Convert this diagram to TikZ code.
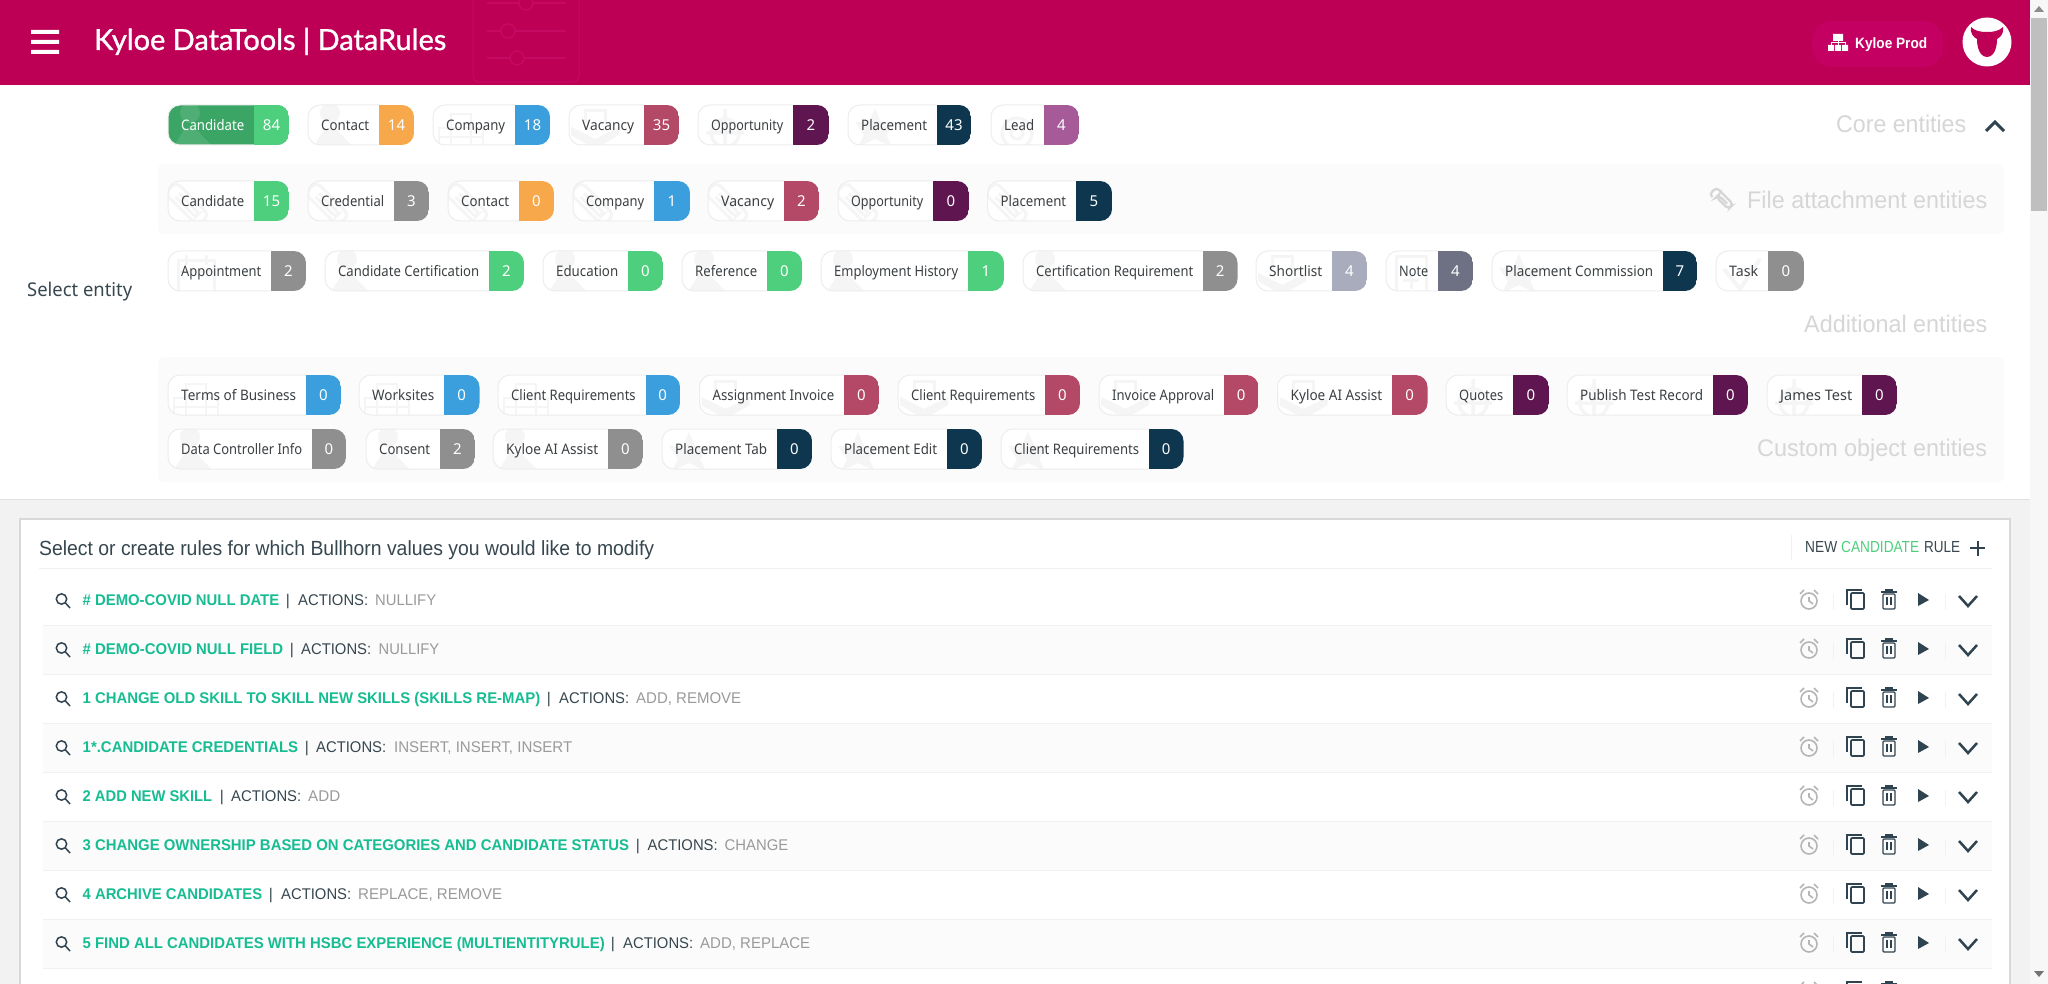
\documentclass[tikz,border=0pt]{standalone}
\usepackage{graphicx}
\usepackage{fontspec}
\setmainfont{Liberation Sans}
\newfontfamily\chipfont{Noto Sans}
\newfontfamily\titlefont[FakeBold=1.2]{Lato}
\definecolor{hdr}{HTML}{BD0056}
\definecolor{hdrpill}{HTML}{C40063}
\definecolor{hdrghost}{HTML}{C50A64}
\definecolor{pagebg}{HTML}{F2F2F2}
\definecolor{panel}{HTML}{FBFBFB}
\definecolor{chipline}{HTML}{EDEDED}
\definecolor{ghostc}{HTML}{F5F5F5}
\definecolor{labelc}{HTML}{3C4043}
\definecolor{cgreen}{HTML}{4DCF7D}
\definecolor{cgreendark}{HTML}{3AA565}
\definecolor{corange}{HTML}{F7A84A}
\definecolor{cblue}{HTML}{3A9FDC}
\definecolor{cvac}{HTML}{B34867}
\definecolor{copp}{HTML}{5F1650}
\definecolor{cplace}{HTML}{0E364F}
\definecolor{clead}{HTML}{A65B98}
\definecolor{cgrey}{HTML}{8F8F8F}
\definecolor{cshort}{HTML}{A9ACBD}
\definecolor{cnote}{HTML}{6E7183}
\definecolor{sect}{HTML}{D6D6D6}
\definecolor{slate}{HTML}{37474F}
\definecolor{iconc}{HTML}{2F4350}
\definecolor{alarmc}{HTML}{B5B5B5}
\definecolor{rulegreen}{HTML}{17BD92}
\definecolor{valc}{HTML}{9A9A9A}
\definecolor{sepc}{HTML}{F1F1F1}
\definecolor{cardline}{HTML}{D8D8D8}
\newcommand{\fitw}[2]{\resizebox{#1pt}{\height}{#2}}
\newcounter{chipc}
\newcounter{rowc}
\def\chipfillc{white}
\def\chiptextc{labelc}
\def\chipghostc{ghostc}
% ghost icons, drawn from the chip's left edge \gx and centre \gy
\newcommand{\ghostperson}{\fill[\chipghostc] (\gx+22,\gy-12) circle[radius=10pt];
  \fill[\chipghostc] (\gx+6,\gy+21) -- (\gx+17,\gy+3) -- (\gx+27,\gy+3) -- (\gx+44,\gy+21) -- cycle;}
\newcommand{\ghostbuilding}{\draw[\chipghostc,line width=2.5pt] (\gx+18,\gy+21) -- (\gx+18,\gy-11) -- (\gx+38,\gy-11) -- (\gx+38,\gy+21)
  (\gx+6,\gy+21) -- (\gx+6,\gy+3) -- (\gx+50,\gy+3) -- (\gx+50,\gy+21) (\gx+6,\gy+12) -- (\gx+50,\gy+12);}
\newcommand{\ghostclip}{\begin{scope}[shift={(\gx+24,\gy+8)},rotate=-45]
  \draw[\chipghostc,line width=3pt,rounded corners=6pt] (-30,-8) rectangle (16,8);
  \draw[\chipghostc,line width=3pt,rounded corners=3pt] (-20,-2) -- (8,-2) -- (8,3) -- (-20,3);
  \end{scope}}
\newcommand{\ghostvacancy}{\draw[\chipghostc,line width=3pt] (\gx+16,\gy-2) -- (\gx+16,\gy-14) -- (\gx+36,\gy-14) -- (\gx+36,\gy-2);
  \fill[\chipghostc] (\gx+2,\gy+2) -- (\gx+26,\gy+14) -- (\gx+50,\gy+2) -- (\gx+50,\gy+10) -- (\gx+26,\gy+24) -- (\gx+2,\gy+10) -- cycle;}
\newcommand{\ghostopp}{\draw[\chipghostc,line width=3.5pt] (\gx+27,\gy+8) circle[radius=14pt] (\gx+27,\gy-16) -- (\gx+27,\gy+20) (\gx+8,\gy+8) -- (\gx+46,\gy+8);}
\newcommand{\ghoststar}{\fill[\chipghostc] (\gx+27,\gy-17) -- (\gx+33,\gy-3) -- (\gx+47,\gy-3) -- (\gx+38,\gy+10) -- (\gx+44,\gy+22) -- (\gx+27,\gy+14) -- (\gx+10,\gy+22) -- (\gx+16,\gy+10) -- (\gx+7,\gy-3) -- (\gx+21,\gy-3) -- cycle;}
\newcommand{\ghostlead}{\draw[\chipghostc,line width=3pt] (\gx+26,\gy+8) circle[radius=15pt] (\gx+26,\gy+8) circle[radius=6pt];}
\newcommand{\ghostcal}{\draw[\chipghostc,line width=3pt] (\gx+10,\gy-10) rectangle (\gx+46,\gy+22) (\gx+10,\gy+1) -- (\gx+46,\gy+1) (\gx+18,\gy-16) -- (\gx+18,\gy-6) (\gx+38,\gy-16) -- (\gx+38,\gy-6);}
\newcommand{\ghostnote}{\draw[\chipghostc,line width=3pt] (\gx+10,\gy-14) rectangle (\gx+40,\gy+22) (\gx+25,\gy+2) -- (\gx+25,\gy+18) (\gx+17,\gy+10) -- (\gx+33,\gy+10);}
\newcommand{\ghostcheck}{\draw[\chipghostc,line width=4pt] (\gx+8,\gy-2) -- (\gx+24,\gy+18) -- (\gx+44,\gy-12);}
% chip: left, split, right, centre y, label, count, colour, icon
\newcommand{\chip}[8]{%
  \stepcounter{chipc}%
  \def\gx{#1}\def\gy{#4}%
  \begin{scope}
    \clip[rounded corners=12pt] (#1,#4-20) rectangle (#3,#4+20);
    \fill[\chipfillc] (#1,#4-20) rectangle (#3,#4+20);
    \csname ghost#8\endcsname
    \fill[#7] (#2,#4-20) rectangle (#3,#4+20);
  \end{scope}
  \begin{scope}
    \clip (#1-2,#4-22) rectangle (#2,#4+22);
    \draw[chipline,line width=1pt,rounded corners=12pt] (#1,#4-20) rectangle (#3,#4+20);
  \end{scope}
  \pgfmathsetmacro\chipw{#2-#1-23}%
  \pgfmathsetmacro\chipnum{(#2+#3)/2}%
  \node[anchor=base west,inner sep=0pt,text=\chiptextc] (chip\arabic{chipc}) at (#1+13,#4+5.5) {\chipfont\fontsize{14.5}{16}\selectfont\fitw{\chipw}{#5}};
  \node[anchor=base,inner sep=0pt,text=white] (count\arabic{chipc}) at (\chipnum,#4+5.5) {\chipfont\fontsize{15}{16}\selectfont #6};
}
% icons of a rule row
\newcommand{\rowicons}[1]{%
  \draw[alarmc,line width=1.6pt] (1809,#1+1) circle[radius=8pt] (1809,#1-3) -- (1809,#1+1) -- (1813,#1+4) (1800,#1-6) -- (1804,#1-10) (1818,#1-6) -- (1814,#1-10);
  \draw[sepc,line width=1pt] (1833,#1-6) -- (1833,#1+10) (1945,#1-6) -- (1945,#1+10);
  \draw[iconc,line width=1.6pt] (1862,#1-10) -- (1847,#1-10) -- (1847,#1+5);
  \draw[iconc,line width=1.6pt,rounded corners=1pt] (1851,#1-7) rectangle (1864,#1+9);
  \draw[iconc,line width=1.5pt] (1881,#1-8) -- (1897,#1-8) (1885,#1-10) -- (1893,#1-10);
  \draw[iconc,line width=1.3pt,rounded corners=1pt] (1883,#1-6) rectangle (1895,#1+9);
  \draw[iconc,line width=1.1pt] (1887,#1-3) -- (1887,#1+5) (1891,#1-3) -- (1891,#1+5);
  \fill[iconc] (1918,#1-7) -- (1929,#1) -- (1918,#1+6) -- cycle;
  \draw[iconc,line width=2.5pt] (1959,#1-4) -- (1968,#1+6) -- (1977,#1-4);
}
% rule row: y, green end, name, bar x, actions x, values x, values end, values
\newcommand{\rulerow}[8]{%
  \stepcounter{rowc}%
  \draw[iconc,line width=1.5pt] (61.5,#1-1) circle[radius=5.2pt] (65.5,#1+3) -- (70,#1+8);
  \pgfmathsetmacro\rowgw{#2-82.5}%
  \pgfmathsetmacro\rowvw{#7-#6}%
  \node[anchor=base west,inner sep=0pt,text=rulegreen] (rule\arabic{rowc}) at (82.5,#1+5.5) {\fontsize{15.5}{16}\selectfont\bfseries\fitw{\rowgw}{#3}};
  \node[anchor=base,inner sep=0pt,text=slate] (bar\arabic{rowc}) at (#4,#1+5.5) {\fontsize{15.5}{16}\selectfont |};
  \node[anchor=base west,inner sep=0pt,text=slate] (act\arabic{rowc}) at (#5,#1+5.5) {\fontsize{15.5}{16}\selectfont\fitw{70}{ACTIONS:}};
  \node[anchor=base west,inner sep=0pt,text=valc] (val\arabic{rowc}) at (#6,#1+5.5) {\fontsize{15.5}{16}\selectfont\fitw{\rowvw}{#8}};
  \rowicons{#1}
}
\begin{document}
\begin{tikzpicture}[x=1pt,y=-1pt]
\useasboundingbox (0,0) rectangle (2048,984);
\clip (0,0) rectangle (2048,984);
% page
\fill[white] (0,0) rectangle (2048,984);
\fill[pagebg] (0,499) rectangle (2030,984);
\draw[cardline!80!white,line width=1pt] (0,499) -- (2030,499);
% scrollbar
\fill[pagebg!60!white] (2030,0) rectangle (2048,984);
\fill[black!25] (2031,18) rectangle (2047,211);
\fill[black!45] (2034,12) -- (2039,6) -- (2044,12) -- cycle;
\fill[black!55] (2034,971) -- (2039,977) -- (2044,971) -- cycle;
% header
\fill[hdr] (0,0) rectangle (2030,85);
\draw[hdrghost,line width=1pt,rounded corners=6pt] (473,-10) rectangle (579,82);
\draw[hdrghost,line width=1.5pt] (487,3) -- (566,3) (487,31) -- (566,31) (487,58) -- (566,58);
\fill[hdr] (526,3) circle[radius=7pt] (508,31) circle[radius=7pt] (517,58) circle[radius=7pt];
\draw[hdrghost,line width=1.5pt] (526,3) circle[radius=7pt] (508,31) circle[radius=7pt] (517,58) circle[radius=7pt];
\fill[white] (31,30) rectangle (59,34) (31,40) rectangle (59,44) (31,50) rectangle (59,54);
\node[anchor=base west,inner sep=0pt,text=white] (title) at (94,50) {\titlefont\fontsize{29}{32}\selectfont\fitw{352}{Kyloe DataTools | DataRules}};
\fill[hdrpill,rounded corners=20pt] (1812,21) rectangle (1943,67);
\fill[white] (1833,34) rectangle (1843,41) (1828,45) rectangle (1834,51) (1835,45) rectangle (1841,51) (1842,45) rectangle (1848,51);
\draw[white,line width=1pt] (1838,41) -- (1838,45) (1831,45) -- (1831,43) -- (1845,43) -- (1845,45);
\node[anchor=base west,inner sep=0pt,text=white] (prod) at (1855,48.5) {\fontsize{15}{16}\selectfont\bfseries\fitw{72}{Kyloe Prod}};
\fill[white] (1987,42) circle[radius=24.5pt];
\fill[hdr] (1971,27) .. controls (1975,31) and (1980,32) .. (1987,32) .. controls (1994,32) and (1999,31) .. (2003,27) .. controls (2004,33) and (2001,37) .. (1997,39) .. controls (1997,45) and (1996,50) .. (1993,54) .. controls (1990,58) and (1984,58) .. (1981,54) .. controls (1978,50) and (1977,45) .. (1977,39) .. controls (1973,37) and (1970,33) .. (1971,27) -- cycle;
% panels
\fill[panel,rounded corners=6pt] (158,164) rectangle (2004,234);
\fill[panel,rounded corners=6pt] (158,357) rectangle (2004,482);
% row 1
\begin{scope}
\def\chipfillc{cgreendark}\def\chiptextc{white}\def\chipghostc{cgreendark!90!white}
\chip{168}{254}{289}{125}{Candidate}{84}{cgreen}{person}
\end{scope}
\chip{308}{379}{414}{125}{Contact}{14}{corange}{person}
\chip{433}{515}{550}{125}{Company}{18}{cblue}{building}
\chip{569}{644}{679}{125}{Vacancy}{35}{cvac}{vacancy}
\chip{698}{793}{829}{125}{Opportunity}{2}{copp}{opp}
\chip{848}{937}{971}{125}{Placement}{43}{cplace}{star}
\chip{991}{1044}{1079}{125}{Lead}{4}{clead}{lead}
% row 2
\chip{168}{254}{289}{201}{Candidate}{15}{cgreen}{clip}
\chip{308}{394}{429}{201}{Credential}{3}{cgrey}{clip}
\chip{448}{519}{554}{201}{Contact}{0}{corange}{clip}
\chip{573}{654}{690}{201}{Company}{1}{cblue}{clip}
\chip{708}{784}{819}{201}{Vacancy}{2}{cvac}{clip}
\chip{838}{933}{969}{201}{Opportunity}{0}{copp}{clip}
\chip{987.5}{1076}{1112}{201}{Placement}{5}{cplace}{clip}
% row 3
\chip{168}{271}{306}{271}{Appointment}{2}{cgrey}{cal}
\chip{325}{489}{524}{271}{Candidate Certification}{2}{cgreen}{person}
\chip{543}{628}{663}{271}{Education}{0}{cgreen}{person}
\chip{682}{767}{802}{271}{Reference}{0}{cgreen}{person}
\chip{821}{968}{1004}{271}{Employment History}{1}{cgreen}{person}
\chip{1023}{1203}{1237.5}{271}{Certification Requirement}{2}{cgrey}{person}
\chip{1256}{1332}{1367}{271}{Shortlist}{4}{cshort}{vacancy}
\chip{1386}{1438}{1473}{271}{Note}{4}{cnote}{note}
\chip{1492}{1663}{1697}{271}{Placement Commission}{7}{cplace}{star}
\chip{1716}{1768}{1804}{271}{Task}{0}{cgrey}{check}
% row 4
\chip{168}{306}{341}{395}{Terms of Business}{0}{cblue}{building}
\chip{359}{444}{479.5}{395}{Worksites}{0}{cblue}{building}
\chip{498}{645.5}{680}{395}{Client Requirements}{0}{cblue}{building}
\chip{699.5}{844}{879}{395}{Assignment Invoice}{0}{cvac}{vacancy}
\chip{898}{1045}{1080}{395}{Client Requirements}{0}{cvac}{vacancy}
\chip{1099}{1224}{1258.5}{395}{Invoice Approval}{0}{cvac}{vacancy}
\chip{1277.5}{1392}{1427.5}{395}{Kyloe AI Assist}{0}{cvac}{vacancy}
\chip{1446}{1513}{1549}{395}{Quotes}{0}{copp}{opp}
\chip{1567}{1713}{1748}{395}{Publish Test Record}{0}{copp}{opp}
\chip{1767}{1862}{1897}{395}{James Test}{0}{copp}{opp}
% row 5
\chip{168}{312}{346}{449}{Data Controller Info}{0}{cgrey}{person}
\chip{366}{440}{475}{449}{Consent}{2}{cgrey}{person}
\chip{493}{608}{643}{449}{Kyloe AI Assist}{0}{cgrey}{person}
\chip{662}{777}{812}{449}{Placement Tab}{0}{cplace}{star}
\chip{831}{947}{982}{449}{Placement Edit}{0}{cplace}{star}
\chip{1001}{1149}{1183.5}{449}{Client Requirements}{0}{cplace}{star}
% section labels
\node[anchor=base west,inner sep=0pt,text=sect] (core) at (1836,133) {\fontsize{24}{26}\selectfont\fitw{130}{Core entities}};
\draw[iconc,line width=3pt] (1986,131) -- (1995,122) -- (2004,131);
\node[anchor=base west,inner sep=0pt,text=sect] (file) at (1747,209) {\fontsize{24}{26}\selectfont\fitw{240}{File attachment entities}};
\begin{scope}[shift={(1722,200)},rotate=-45]
\draw[sect,line width=2.3pt,rounded corners=4pt] (-9,5) -- (-13,5) -- (-13,-5) -- (11,-5) -- (11,2) -- (-6,2) -- (-6,-1) -- (6,-1);
\end{scope}
\node[anchor=base west,inner sep=0pt,text=sect] (addl) at (1804,333) {\fontsize{24}{26}\selectfont\fitw{183}{Additional entities}};
\node[anchor=base west,inner sep=0pt,text=sect] (custom) at (1757,456) {\fontsize{24}{26}\selectfont\fitw{230}{Custom object entities}};
\node[anchor=base west,inner sep=0pt,text=slate] (selent) at (27,297) {\chipfont\fontsize{19}{20}\selectfont\fitw{105}{Select entity}};
% card
\fill[white] (20,519) rectangle (2010,990);
\draw[cardline,line width=1.2pt] (20,990) -- (20,519) -- (2010,519) -- (2010,990);
\node[anchor=base west,inner sep=0pt,text=slate] (cardtitle) at (39,555) {\fontsize{20.5}{22}\selectfont\fitw{615}{Select or create rules for which Bullhorn values you would like to modify}};
\draw[sepc,line width=1pt] (39,568) -- (1992,568) (1791,535) -- (1791,560);
\node[anchor=base west,inner sep=0pt,text=slate] (newa) at (1805,552) {\fontsize{16}{18}\selectfont\fitw{32}{NEW}};
\node[anchor=base west,inner sep=0pt,text=cgreen] (newb) at (1841,552) {\fontsize{16}{18}\selectfont\fitw{78}{CANDIDATE}};
\node[anchor=base west,inner sep=0pt,text=slate] (newc) at (1924,552) {\fontsize{16}{18}\selectfont\fitw{36}{RULE}};
\draw[iconc,line width=2pt] (1970,548) -- (1985,548) (1977.5,540.5) -- (1977.5,555.5);
% striped rows
\fill[panel] (43,625) rectangle (1992,674) (43,723) rectangle (1992,772) (43,821) rectangle (1992,870) (43,919) rectangle (1992,968);
\draw[sepc,line width=1pt] (43,625) -- (1992,625) (43,674) -- (1992,674) (43,723) -- (1992,723) (43,772) -- (1992,772) (43,821) -- (1992,821) (43,870) -- (1992,870) (43,919) -- (1992,919) (43,968) -- (1992,968);
\rulerow{600}{279}{\# DEMO-COVID NULL DATE}{288}{298}{375}{436}{NULLIFY}
\rulerow{649}{283}{\# DEMO-COVID NULL FIELD}{292}{301}{378.5}{439}{NULLIFY}
\rulerow{698}{540}{1 CHANGE OLD SKILL TO SKILL NEW SKILLS (SKILLS RE-MAP)}{549}{559}{636}{741}{ADD, REMOVE}
\rulerow{747}{298}{1*.CANDIDATE CREDENTIALS}{307}{316}{394}{572}{INSERT, INSERT, INSERT}
\rulerow{796}{212}{2 ADD NEW SKILL}{222}{231}{308}{340}{ADD}
\rulerow{845}{629}{3 CHANGE OWNERSHIP BASED ON CATEGORIES AND CANDIDATE STATUS}{638}{647.5}{724.5}{788}{CHANGE}
\rulerow{894}{262}{4 ARCHIVE CANDIDATES}{271}{281}{358}{502}{REPLACE, REMOVE}
\rulerow{943}{604.5}{5 FIND ALL CANDIDATES WITH HSBC EXPERIENCE (MULTIENTITYRULE)}{613}{623}{700}{810}{ADD, REPLACE}
\rowicons{992}
\end{tikzpicture}
\end{document}
